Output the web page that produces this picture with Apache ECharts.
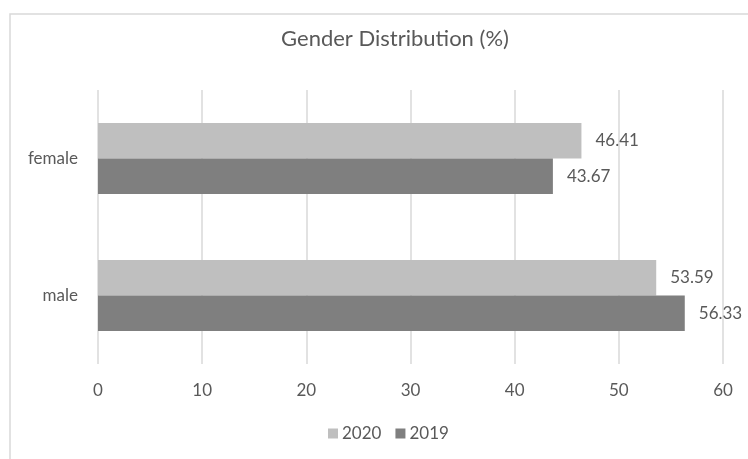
<!DOCTYPE html>
<html>
<head>
<meta charset="utf-8">
<script src="https://cdn.jsdelivr.net/npm/echarts@6/dist/echarts.min.js"></script>
<style>
html,body{margin:0;padding:0;background:#fff;}
#c{width:748px;height:459px;}
</style>
</head>
<body>
<div id="c"></div>
<script>
const categories = ['male', 'female'];
const seriesNames = ['2020', '2019'];
const values2020 = [53.59, 46.41];
const values2019 = [56.33, 43.67];
const xTicks = [0, 10, 20, 30, 40, 50, 60];

const txt = '#595959';
const font = 'Lato';
const chart = echarts.init(document.getElementById('c'), null, {renderer: 'canvas'});
chart.setOption({
  animation: false,
  backgroundColor: '#fff',
  textStyle: {fontFamily: font},
  title: {
    text: 'Gender Distribution (%)',
    left: 390, top: 23, textAlign: 'center',
    textStyle: {fontFamily: font, fontSize: 22, fontWeight: 'normal', color: txt}
  },
  legend: {
    data: seriesNames,
    left: 328, top: 425, padding: 0,
    icon: 'rect', itemWidth: 10, itemHeight: 10, itemGap: 14,
    textStyle: {fontFamily: font, fontSize: 17, color: txt, padding: [0, 0, 0, -1]}
  },
  grid: {left: 98, right: 25, top: 90, bottom: 95, containLabel: false},
  xAxis: {
    type: 'value', min: xTicks[0], max: xTicks[xTicks.length - 1], interval: 10,
    axisLine: {show: false}, axisTick: {show: false},
    axisLabel: {fontFamily: font, fontSize: 17, color: txt, margin: 18},
    splitLine: {show: true, lineStyle: {color: '#d9d9d9', width: 1.5}}
  },
  yAxis: {
    type: 'category', data: categories,
    axisLine: {show: false}, axisTick: {show: false},
    axisLabel: {fontFamily: font, fontSize: 17, color: txt, margin: 20}
  },
  series: [
    {
      name: seriesNames[0], type: 'bar', data: values2020,
      barWidth: 35.5, barGap: '0%',
      itemStyle: {color: '#bfbfbf'},
      label: {show: true, position: 'right', distance: 14, fontFamily: font, fontSize: 17, color: txt}
    },
    {
      name: seriesNames[1], type: 'bar', data: values2019,
      barWidth: 35.5, barGap: '0%',
      itemStyle: {color: '#7f7f7f'},
      label: {show: true, position: 'right', distance: 14, fontFamily: font, fontSize: 17, color: txt}
    }
  ],
  graphic: [{
    type: 'rect', silent: true, z: -1,
    shape: {x: 10, y: 14, width: 800, height: 500},
    style: {fill: 'none', stroke: '#d9d9d9', lineWidth: 1.5}
  }]
});
</script>
</body>
</html>
